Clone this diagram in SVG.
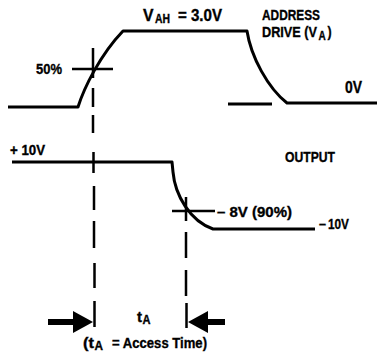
<svg xmlns="http://www.w3.org/2000/svg" width="377" height="358" viewBox="0 0 377 358">
<style>
.w{fill:none;stroke:#000;stroke-width:3;stroke-linejoin:round}
.m{fill:none;stroke:#000;stroke-width:2.5}
.t{font-family:"Liberation Sans",Arial,sans-serif;font-weight:bold;fill:#000;stroke:#000;stroke-width:0.35}
</style>
<rect width="377" height="358" fill="#fff"/>
<g id="address-drive">
<path class="w" d="M8,107 H78 C84,88 100,55 123,31 H247 C251,57 268,88 287,103 H377"/>
<path class="w" d="M228,104 H272"/>
</g>
<g id="output">
<path class="w" d="M12,162 H172 L173,172 C175,195 190,221 213,229 H315"/>
</g>
<g id="markers">
<path class="m" d="M72,69 H113 M93,48 V78"/>
<path class="m" d="M172,211 H215 M186,197 V221"/>
<path class="m" d="M93,88 V107 M93,115 V133 M93.5,152 V173 M94,186 V210 M94,221 V248 M94.5,263 V288 M94.5,301 V327"/>
<path class="m" d="M186,232 V258 M186,270 V296 M186.5,303 V328"/>
</g>
<g id="arrows">
<rect x="48" y="319" width="27" height="6"/>
<polygon points="73,311 93,322 73,333"/>
<rect x="206" y="319" width="19" height="6"/>
<polygon points="188,322 208,311 208,333"/>
</g>
<g id="labels">
<text class="t" x="143" y="21" font-size="16" textLength="10.5" lengthAdjust="spacingAndGlyphs">V</text>
<text class="t" x="155" y="23" font-size="12.5" textLength="15" lengthAdjust="spacingAndGlyphs">AH</text>
<text class="t" x="178" y="21" font-size="16" textLength="44" lengthAdjust="spacingAndGlyphs">= 3.0V</text>
<text class="t" x="262" y="20" font-size="15.5" textLength="58" lengthAdjust="spacingAndGlyphs">ADDRESS</text>
<text class="t" transform="translate(262,37) scale(0.82,1)" font-size="15.5">DRIVE (V</text>
<text class="t" transform="translate(318.5,39.5) scale(0.8,1)" font-size="12.5">A</text>
<text class="t" transform="translate(327.5,37) scale(0.8,1)" font-size="15.5">)</text>
<text class="t" x="36" y="74" font-size="15.5" textLength="26" lengthAdjust="spacingAndGlyphs">50%</text>
<text class="t" x="345" y="93" font-size="16" textLength="17" lengthAdjust="spacingAndGlyphs">0V</text>
<text class="t" x="10" y="155" font-size="14" textLength="35" lengthAdjust="spacingAndGlyphs">+ 10V</text>
<text class="t" x="285" y="162" font-size="15" textLength="50" lengthAdjust="spacingAndGlyphs">OUTPUT</text>
<text class="t" x="217" y="217" font-size="15" textLength="75" lengthAdjust="spacingAndGlyphs">– 8V (90%)</text>
<text class="t" x="319" y="229" font-size="15" textLength="7" lengthAdjust="spacingAndGlyphs">–</text>
<text class="t" x="328" y="229" font-size="15" textLength="21" lengthAdjust="spacingAndGlyphs">10V</text>
<text class="t" x="137" y="322" font-size="15" textLength="5" lengthAdjust="spacingAndGlyphs">t</text>
<text class="t" x="142.5" y="324" font-size="12.5" textLength="8" lengthAdjust="spacingAndGlyphs">A</text>
<text class="t" x="83" y="348" font-size="15" textLength="11" lengthAdjust="spacingAndGlyphs">(t</text>
<text class="t" x="94.5" y="350" font-size="12.5" textLength="8.5" lengthAdjust="spacingAndGlyphs">A</text>
<text class="t" x="112" y="348" font-size="15" textLength="95" lengthAdjust="spacingAndGlyphs">= Access Time)</text>
</g>
</svg>
